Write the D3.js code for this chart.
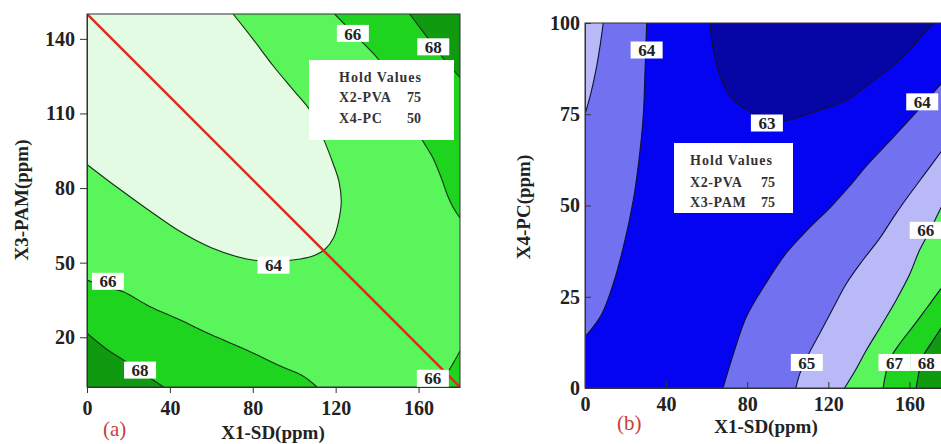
<!DOCTYPE html>
<html>
<head>
<meta charset="utf-8">
<script src="https://cdn.jsdelivr.net/npm/d3@7"></script>
<style>
  body { margin: 0; background: #fff; }
  text { font-family: "Liberation Serif", "Times New Roman", serif; }
</style>
</head>
<body>
<div id="chart"></div>
<script>
// Ticks de los ejes
const xTicks = [0, 40, 80, 120, 160];
const yTicksA = [20, 50, 80, 110, 140];
const yTicksB = [0, 25, 50, 75, 100];

// Panel (a): curvas de nivel, [X1-SD, X3-PAM]
const c64a = [[0, 89.5], [15, 80], [30, 71], [45, 62.5], [60, 56], [77, 51.5], [90, 50.5], [103, 51.5], [110, 53], [115, 55.5], [119, 60], [121.5, 67], [122.7, 75], [121.5, 83], [118.7, 90], [113.5, 101], [107.5, 111.4], [100, 119], [90, 129], [80, 140], [70.5, 150]];
const c66aLow = [[0, 43], [10, 40], [17.5, 38.3], [30, 32.5], [44.8, 27], [60, 21], [77, 14.9], [93, 8.5], [104, 4.5], [111, 0]];
const c68aLow = [[0, 21.6], [9, 15.5], [17.5, 10.9], [27, 5.5], [37, 0]];
const c66aUp = [[119.5, 150], [130, 141], [139.6, 132.8], [147, 124], [154, 113], [159, 104], [162, 99], [167, 92], [171, 84], [174, 77], [176.5, 72.5], [180, 68]];
const c68aUp = [[155.7, 150], [162, 143], [168, 136.5], [174, 130], [180, 124.5]];
const c66aBr = [[166, 0], [170, 2.5], [174, 6], [177, 10], [180, 14.5]];
const diagonal = [[0, 150], [180, 0]];
const labelsA = [
  { x: 128.3, y: 142.2, t: "66" }, { x: 167.1, y: 136.8, t: "68" },
  { x: 90, y: 49, t: "64" }, { x: 10.1, y: 42.5, t: "66" },
  { x: 25.6, y: 6.8, t: "68" }, { x: 166.9, y: 3.5, t: "66" }
];
const holdA = [["X2-PVA", 75], ["X4-PC", 50]];

// Panel (b): curvas de nivel, [X1-SD, X4-PC]
const c63b = [[61.6, 100], [63.5, 92], [68, 83.4], [73, 79], [79.6, 76.2], [88, 73.8], [96, 73], [106, 74.3], [115.8, 76.2], [122, 77.2], [131, 79.5], [140.4, 83.4], [150, 87.5], [160, 92.6], [169, 98.3], [172, 100]];
const c64bLeft = [[30.4, 100], [29.5, 85], [28.7, 74.3], [26.5, 62], [23.8, 51.5], [19.5, 40], [14, 28.7], [8, 20], [0, 14]];
const c65bLeft = [[9, 100], [7.5, 94], [5.7, 88], [3, 81], [0, 75]];
const c64bRight = [[68.1, 0], [73, 9], [79.6, 19.5], [89, 28.5], [99.3, 37], [110, 43.5], [121, 49.5], [130, 55], [139, 61], [150, 67.5], [160, 73.5], [168, 78.5], [176, 83.6], [180, 86]];
const c65b = [[104, 0], [106, 4], [110, 9], [115.8, 15], [122, 21.5], [129, 28.7], [137, 35], [145.3, 41], [153, 47.5], [160, 53], [168, 59], [176, 65], [180, 68]];
const c66b = [[128, 0], [133, 4.5], [138.8, 10.4], [146, 17], [153.5, 24.1], [160, 31], [165, 37.8], [170, 43], [175, 48.8], [180, 54]];
const c67b = [[147, 0], [150.2, 7.7], [155, 12], [161.7, 16.8], [168, 21.5], [175, 26.8], [180, 30.5]];
const c68b = [[163.3, 0], [166.7, 8.6], [171, 12.5], [175, 15.9], [180, 20]];
const labelsB = [
  { x: 30.4, y: 92.6, t: "64" }, { x: 89.7, y: 72.6, t: "63" },
  { x: 166.3, y: 78.4, t: "64" }, { x: 168, y: 43.2, t: "66" },
  { x: 109.4, y: 7, t: "65" }, { x: 152.6, y: 7, t: "67" }, { x: 168.3, y: 7, t: "68" }
];
const holdB = [["X2-PVA", 75], ["X3-PAM", 75]];

// Colores
const green = { pale: "#e3fbe3", light: "#5af55a", mid: "#1ed41e", dark: "#109a10" };
const blue = { navy: "#0606a6", base: "#0404f2", mid: "#7272f0", pale: "#b9b9f7" };

const svg = d3.select("#chart")
  .append("svg")
  .attr("width", 941)
  .attr("height", 444);

// Escalas
const xA = d3.scaleLinear().domain([0, 180]).range([87, 460]);
const yA = d3.scaleLinear().domain([0, 150]).range([387, 14]);
const xB = d3.scaleLinear().domain([0, 180]).range([585, 950]);
const yB = d3.scaleLinear().domain([0, 100]).range([388, 23]);

const curve = d3.curveCatmullRom.alpha(0.5);

function region(pts, corners, x, y) {
  const line = d3.line().x(d => x(d[0])).y(d => y(d[1])).curve(curve);
  let p = line(pts);
  corners.forEach(c => { p += `L${x(c[0])},${y(c[1])}`; });
  return p + "Z";
}

function panel(id, x, y, bg, fills, lines, lineColor) {
  svg.append("clipPath").attr("id", id)
    .append("rect")
    .attr("x", x.range()[0]).attr("y", y.range()[1])
    .attr("width", x.range()[1] - x.range()[0])
    .attr("height", y.range()[0] - y.range()[1]);

  const g = svg.append("g").attr("clip-path", `url(#${id})`);
  g.append("rect")
    .attr("x", x.range()[0]).attr("y", y.range()[1])
    .attr("width", x.range()[1] - x.range()[0])
    .attr("height", y.range()[0] - y.range()[1])
    .attr("fill", bg);

  g.selectAll(".zone")
    .data(fills)
    .enter().append("path")
    .attr("class", "zone")
    .attr("d", d => region(d.pts, d.corners, x, y))
    .attr("fill", d => d.color);

  const line = d3.line().x(d => x(d[0])).y(d => y(d[1])).curve(curve);
  g.selectAll(".level")
    .data(lines)
    .enter().append("path")
    .attr("class", "level")
    .attr("d", line)
    .attr("fill", "none")
    .attr("stroke", lineColor)
    .attr("stroke-width", 1.1);
  return g;
}

function levelLabels(labels, x, y) {
  const lab = svg.append("g").selectAll("g")
    .data(labels)
    .enter().append("g")
    .attr("transform", d => `translate(${x(d.x)},${y(d.y)})`);
  lab.append("rect")
    .attr("x", -16).attr("y", -8.5)
    .attr("width", 32).attr("height", 17)
    .attr("fill", "#fff");
  lab.append("text")
    .attr("text-anchor", "middle")
    .attr("dy", "0.36em")
    .attr("font-size", 17)
    .attr("font-weight", "bold")
    .attr("fill", "#222")
    .text(d => d.t);
}

function legend(rows, bx, by, bw, bh, tx, vx, base) {
  const g = svg.append("g");
  g.append("rect").attr("x", bx).attr("y", by).attr("width", bw).attr("height", bh).attr("fill", "#fff");
  g.append("text").attr("x", tx).attr("y", base[0])
    .attr("font-size", 14).attr("font-weight", "bold").attr("letter-spacing", 1)
    .attr("fill", "#333").text("Hold Values");
  rows.forEach((r, i) => {
    g.append("text").attr("x", tx).attr("y", base[i + 1])
      .attr("font-size", 14).attr("font-weight", "bold").attr("letter-spacing", 0.6)
      .attr("fill", "#333").text(r[0]);
    g.append("text").attr("x", vx).attr("y", base[i + 1])
      .attr("text-anchor", "end")
      .attr("font-size", 14).attr("font-weight", "bold")
      .attr("fill", "#333").text(r[1]);
  });
}

function styleAxis(sel) {
  sel.attr("font-family", "Liberation Serif").attr("font-size", 20).attr("font-weight", "bold");
  sel.selectAll("text").attr("fill", "#222");
  sel.selectAll("line, path").attr("stroke", "#333");
}

// ---- Panel (a)
const gA = panel("clipA", xA, yA, green.light, [
  { pts: c64a, corners: [[0, 150]], color: green.pale },
  { pts: c66aLow, corners: [[0, 0]], color: green.mid },
  { pts: c68aLow, corners: [[0, 0]], color: green.dark },
  { pts: c66aUp, corners: [[180, 150]], color: green.mid },
  { pts: c68aUp, corners: [[180, 150]], color: green.dark },
  { pts: c66aBr, corners: [[180, 0]], color: green.mid }
], [c64a, c66aLow, c68aLow, c66aUp, c68aUp, c66aBr], "#163016");

gA.append("path")
  .datum(diagonal)
  .attr("d", d3.line().x(d => xA(d[0])).y(d => yA(d[1])))
  .attr("stroke", "#d2321e")
  .attr("stroke-width", 2.6)
  .attr("fill", "none");

svg.append("rect")
  .attr("x", 87).attr("y", 14).attr("width", 373).attr("height", 373)
  .attr("fill", "none").attr("stroke", "#333").attr("stroke-width", 1);

svg.append("g")
  .attr("transform", `translate(0,${yA(0)})`)
  .call(d3.axisBottom(xA).tickValues(xTicks).tickSize(6).tickSizeOuter(0).tickPadding(8))
  .call(styleAxis);
svg.append("g")
  .attr("transform", `translate(${xA(0)},0)`)
  .call(d3.axisLeft(yA).tickValues(yTicksA).tickSize(7).tickSizeOuter(0).tickPadding(5))
  .call(styleAxis);

levelLabels(labelsA, xA, yA);
legend(holdA, 309, 60, 145, 80, 339, 421, [82, 102, 123]);

svg.append("text")
  .attr("x", 273).attr("y", 439)
  .attr("text-anchor", "middle")
  .attr("font-size", 19).attr("font-weight", "bold").attr("fill", "#222")
  .text("X1-SD(ppm)");
svg.append("text")
  .attr("transform", "translate(28,200) rotate(-90)")
  .attr("text-anchor", "middle")
  .attr("font-size", 19).attr("font-weight", "bold").attr("fill", "#222")
  .text("X3-PAM(ppm)");
svg.append("text")
  .attr("x", 103).attr("y", 436)
  .attr("font-size", 21).attr("fill", "#c8403a")
  .text("(a)");

// ---- Panel (b)
panel("clipB", xB, yB, blue.base, [
  { pts: c63b, corners: [], color: blue.navy },
  { pts: c64bLeft, corners: [[0, 100]], color: blue.mid },
  { pts: c65bLeft, corners: [[0, 100]], color: blue.pale },
  { pts: c64bRight, corners: [[180, 0]], color: blue.mid },
  { pts: c65b, corners: [[180, 0]], color: blue.pale },
  { pts: c66b, corners: [[180, 0]], color: green.light },
  { pts: c67b, corners: [[180, 0]], color: green.mid },
  { pts: c68b, corners: [[180, 0]], color: green.dark }
], [c63b, c64bLeft, c65bLeft, c64bRight, c65b, c66b, c67b, c68b], "#10103a");

svg.append("rect")
  .attr("x", 585).attr("y", 23).attr("width", 365).attr("height", 365)
  .attr("fill", "none").attr("stroke", "#333").attr("stroke-width", 1);

svg.append("g")
  .attr("transform", `translate(0,${yB(0)})`)
  .call(d3.axisBottom(xB).tickValues(xTicks).tickSize(-6).tickSizeOuter(0).tickPadding(9))
  .call(styleAxis);
svg.append("g")
  .attr("transform", `translate(${xB(0)},0)`)
  .call(d3.axisLeft(yB).tickValues(yTicksB).tickSize(-6).tickSizeOuter(0).tickPadding(5))
  .call(styleAxis);

levelLabels(labelsB, xB, yB);
legend(holdB, 674, 143, 119, 70, 690, 775, [165, 187, 207]);

svg.append("text")
  .attr("x", 766).attr("y", 433)
  .attr("text-anchor", "middle")
  .attr("font-size", 19).attr("font-weight", "bold").attr("fill", "#222")
  .text("X1-SD(ppm)");
svg.append("text")
  .attr("transform", "translate(530,207) rotate(-90)")
  .attr("text-anchor", "middle")
  .attr("font-size", 19).attr("font-weight", "bold").attr("fill", "#222")
  .text("X4-PC(ppm)");
svg.append("text")
  .attr("x", 617).attr("y", 430)
  .attr("font-size", 21).attr("fill", "#c8403a")
  .text("(b)");
</script>
</body>
</html>
